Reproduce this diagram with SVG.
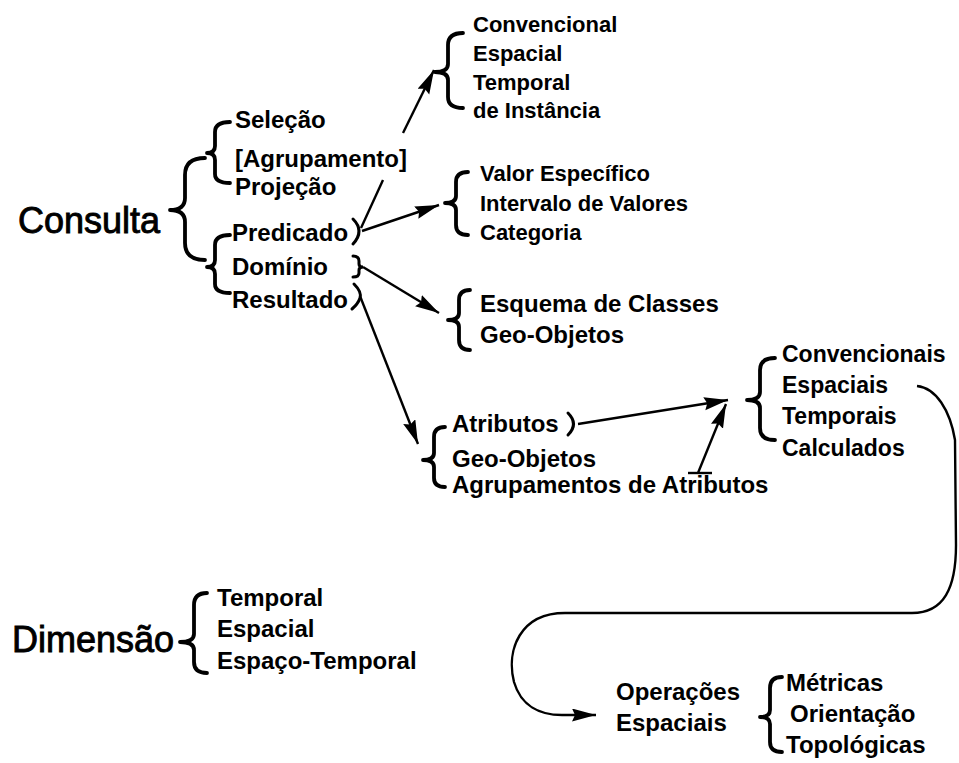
<svg xmlns="http://www.w3.org/2000/svg" width="959" height="763" viewBox="0 0 959 763">
<defs>
<style>
.t{font-family:"Liberation Sans",Arial,sans-serif;fill:#000}
.big{font-size:36px;font-weight:normal;stroke:#000;stroke-width:0.9}
.m{font-size:24px;font-weight:bold}
.s{font-size:22px;font-weight:bold}
.s23{font-size:23px;font-weight:bold}
.br{fill:none;stroke:#000;stroke-width:3.8;stroke-linecap:round;stroke-linejoin:round}
.ln{fill:none;stroke:#000;stroke-width:2.4}
.pr{fill:none;stroke:#000;stroke-width:3;stroke-linecap:round}
</style>
<marker id="ah" markerUnits="userSpaceOnUse" markerWidth="26" markerHeight="14" refX="24" refY="6.5" orient="auto">
<path d="M0,0 L24,6.5 L0,13 L3,6.5 Z" fill="#000"/>
</marker>
</defs>
<rect width="959" height="763" fill="#fff"/>

<g id="consulta">
<text class="t big" x="18" y="233">Consulta</text>
<path class="br" d="M205,158 Q185,158 185,175 L185,198 Q185,210 170,210 Q185,210 185,222 L185,243 Q185,260 205,260"/>
</g>

<g id="grupo-selecao">
<path class="br" d="M230,122 Q215,122 215,132 L215,146 Q215,153 207,153 Q215,153 215,160 L215,174 Q215,183 230,183"/>
<text class="t m" x="235" y="128">Seleção</text>
<text class="t m" x="235" y="167">[Agrupamento]</text>
<text class="t m" x="235" y="195">Projeção</text>
</g>

<g id="grupo-predicado">
<path class="br" d="M230,235 Q215,235 215,245 L215,260 Q215,267 207,267 Q215,267 215,274 L215,284 Q215,293 230,293"/>
<text class="t m" x="232" y="241">Predicado</text>
<text class="t m" x="232" y="275">Domínio</text>
<text class="t m" x="232" y="308">Resultado</text>
<path class="pr" d="M353,219 Q365,231 353,244"/>
<path class="pr" d="M353,256 Q359,256 359,261 L359,264 Q359,267 363,267 Q359,267 359,270 L359,273 Q359,277 353,277"/>
<path class="pr" d="M354,284 Q362,292 360,298 Q358,304 352,309"/>
</g>

<g id="tipos-predicado">
<path class="br" d="M463,33 Q448,33 448,45 L448,64 Q448,72 435,72 Q448,72 448,80 L448,97 Q448,108 463,108"/>
<text class="t s" x="473" y="32">Convencional</text>
<text class="t s" x="473" y="61">Espacial</text>
<text class="t s" x="473" y="90">Temporal</text>
<text class="t s" x="473" y="118">de Instância</text>
</g>

<g id="valores">
<path class="br" d="M468,172 Q456,172 456,182 L456,196 Q456,203 445,203 Q456,203 456,210 L456,225 Q456,235 468,235"/>
<text class="t s" x="480" y="181">Valor Específico</text>
<text class="t s" x="480" y="211">Intervalo de Valores</text>
<text class="t s" x="480" y="240">Categoria</text>
</g>

<g id="dominio">
<path class="br" d="M470,290 Q459,290 459,300 L459,313 Q459,320 448,320 Q459,320 459,327 L459,340 Q459,350 470,350"/>
<text class="t m" x="480" y="312">Esquema de Classes</text>
<text class="t m" x="480" y="343">Geo-Objetos</text>
</g>

<g id="resultado">
<path class="br" d="M445,427 Q434,427 434,437 L434,453 Q434,460 423,460 Q434,460 434,467 L434,478 Q434,487 445,487"/>
<text class="t m" x="452" y="432">Atributos</text>
<path class="pr" d="M568,413 Q579,424 568,435"/>
<text class="t m" x="452" y="467">Geo-Objetos</text>
<text class="t m" x="452" y="493">Agrupamentos de Atributos</text>
</g>

<g id="atributos-tipos">
<path class="br" d="M775,358 Q760,358 760,370 L760,392 Q760,400 747,400 Q760,400 760,408 L760,428 Q760,440 775,440"/>
<text class="t s23" x="782" y="362">Convencionais</text>
<text class="t s23" x="782" y="393">Espaciais</text>
<text class="t s23" x="782" y="424">Temporais</text>
<text class="t s23" x="782" y="456">Calculados</text>
</g>

<g id="dimensao">
<text class="t big" x="12" y="652">Dimensão</text>
<path class="br" d="M207,593 Q194,593 194,605 L194,634 Q194,642 180,642 Q194,642 194,650 L194,662 Q194,673 207,673"/>
<text class="t m" x="217" y="606">Temporal</text>
<text class="t m" x="217" y="637">Espacial</text>
<text class="t m" x="217" y="669">Espaço-Temporal</text>
</g>

<g id="operacoes">
<text class="t m" x="616" y="700">Operações</text>
<text class="t m" x="616" y="731">Espaciais</text>
<path class="br" d="M782,677 Q770,677 770,688 L770,710 Q770,717 760,717 Q770,717 770,724 L770,742 Q770,752 782,752"/>
<text class="t m" x="786" y="691">Métricas</text>
<text class="t m" x="790" y="722">Orientação</text>
<text class="t m" x="786" y="753">Topológicas</text>
</g>

<g id="connectors">
<line class="ln" x1="361" y1="228" x2="383" y2="180"/>
<line class="ln" x1="403" y1="133" x2="434" y2="70" marker-end="url(#ah)"/>
<line class="ln" x1="362" y1="231" x2="439" y2="205" marker-end="url(#ah)"/>
<line class="ln" x1="363" y1="267" x2="439" y2="313" marker-end="url(#ah)"/>
<line class="ln" x1="360" y1="296" x2="418" y2="444" marker-end="url(#ah)"/>
<line class="ln" x1="578" y1="424" x2="728" y2="400" marker-end="url(#ah)"/>
<line class="ln" x1="688" y1="473" x2="712" y2="473"/>
<line class="ln" x1="698" y1="473" x2="726" y2="404" marker-end="url(#ah)"/>
<path class="ln" d="M917,386 C936,388 950,410 955,440 L956,545 C956,588 944,613 912,613 L565,613 C520,613 506,650 514,682 C521,706 540,715 562,715 L596,715" marker-end="url(#ah)"/>
</g>
</svg>
